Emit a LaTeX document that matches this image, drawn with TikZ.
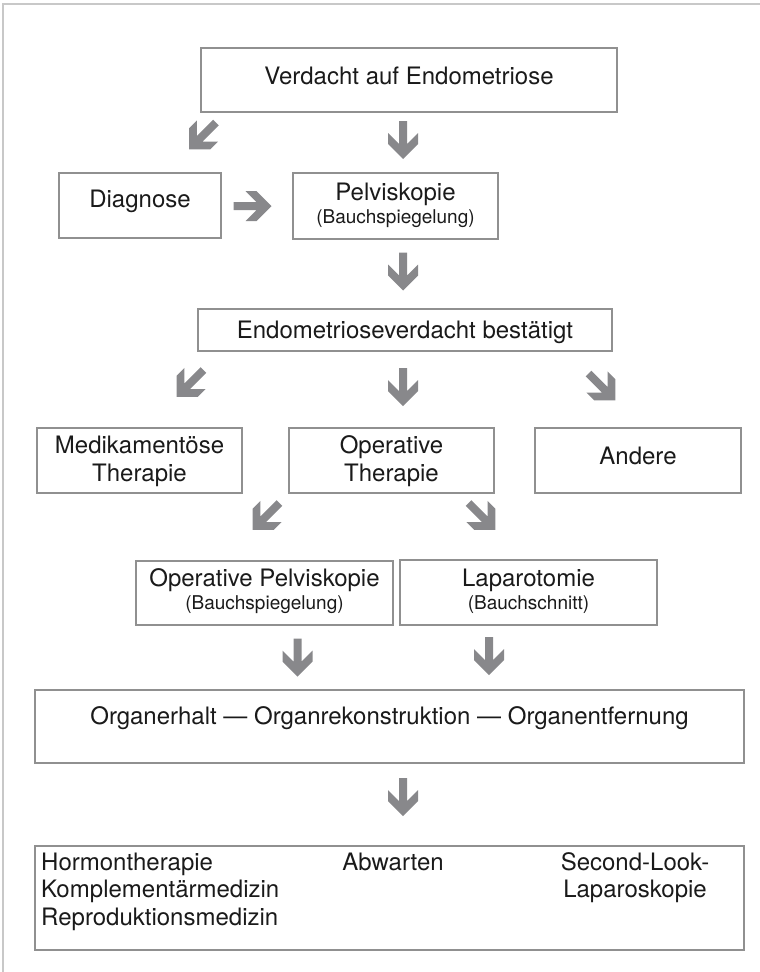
\documentclass[tikz,border=0pt]{standalone}
\usepackage{fontspec}
\setmainfont{TeX Gyre Heros}
\definecolor{boxgray}{HTML}{909090}
\definecolor{arrgray}{HTML}{88888B}
\definecolor{framegray}{HTML}{C8C8C8}
\definecolor{txt}{HTML}{1A1A1A}
\begin{document}
\begin{tikzpicture}[x=1pt,y=-1pt,
  box/.style={draw=boxgray,line width=1.3pt,inner sep=0pt},
  big/.style={font=\fontsize{24}{28}\selectfont,anchor=base,inner sep=0pt,text=txt},
  small/.style={font=\fontsize{19}{22}\selectfont,anchor=base,inner sep=0pt,text=txt},
  bigw/.style={big,anchor=base west},
  fatarrow/.pic={\fill[arrgray] (-4,-19) -- (4,-19) -- (4,4) -- (15,-7) -- (15,4) -- (0,19)
      -- (-15,4) -- (-15,-7) -- (-4,4) -- cycle;}
]
\useasboundingbox (0,0) rectangle (760,972);
% outer frame
\draw[framegray,line width=1.5pt] (3,972) -- (3,4) -- (760,4);

% boxes
\node[box,minimum width=416pt,minimum height=64pt] (top) at (409,80) {};
\node[box,minimum width=162pt,minimum height=65pt] (diag) at (140,205.5) {};
\node[box,minimum width=205pt,minimum height=66pt] (pelv) at (395.5,206) {};
\node[box,minimum width=414pt,minimum height=42pt] (endo) at (405,330) {};
\node[box,minimum width=205pt,minimum height=65pt] (med) at (139.5,460.5) {};
\node[box,minimum width=205pt,minimum height=65pt] (op) at (391.5,460.5) {};
\node[box,minimum width=206pt,minimum height=65pt] (and) at (638,460.5) {};
\node[box,minimum width=257pt,minimum height=64pt] (opp) at (264.5,593) {};
\node[box,minimum width=257pt,minimum height=65pt] (lap) at (528.5,592.5) {};
\node[box,minimum width=709pt,minimum height=73pt] (org) at (389.5,726.5) {};
\node[box,minimum width=709pt,minimum height=104pt] (fin) at (389.5,898) {};

% texts
\node[big] (t1) at (top.center |- 0,84) {Verdacht auf Endometriose};
\node[big] (t2) at (diag.center |- 0,207) {Diagnose};
\node[big] (t3) at (pelv.center |- 0,200) {Pelviskopie};
\node[small] (t4) at (pelv.center |- 0,223) {(Bauchspiegelung)};
\node[big] (t5) at (endo.center |- 0,338) {Endometrioseverdacht bestätigt};
\node[big] (t6) at (med.center |- 0,453) {Medikamentöse};
\node[big] (t7) at (med.center |- 0,481) {Therapie};
\node[big] (t8) at (op.center |- 0,453) {Operative};
\node[big] (t9) at (op.center |- 0,481) {Therapie};
\node[big] (t10) at (and.center |- 0,464) {Andere};
\node[big] (t11) at (opp.center |- 0,586) {Operative Pelviskopie};
\node[small] (t12) at (opp.center |- 0,609) {(Bauchspiegelung)};
\node[big] (t13) at (lap.center |- 0,586) {Laparotomie};
\node[small] (t14) at (lap.center |- 0,609) {(Bauchschnitt)};
\node[big] (t15) at (org.center |- 0,724) {Organerhalt — Organrekonstruktion — Organentfernung};
\node[bigw] (t16) at (41,870) {Hormontherapie};
\node[bigw] (t17) at (41,897) {Komplementärmedizin};
\node[bigw] (t18) at (41,925) {Reproduktionsmedizin};
\node[big] (t19) at (393,870) {Abwarten};
\node[big] (t20) at (635,870) {Second-Look-};
\node[big] (t21) at (635,897) {Laparoskopie};

% fat arrows
\pic[rotate=-45] at (202.5,136) {fatarrow};
\pic at (403,140) {fatarrow};
\pic[rotate=90] at (252.5,206) {fatarrow};
\pic at (403,271.5) {fatarrow};
\pic[rotate=-45] at (190,383.5) {fatarrow};
\pic at (403,387) {fatarrow};
\pic[rotate=45] at (602,387) {fatarrow};
\pic[rotate=-45] at (266,516.5) {fatarrow};
\pic[rotate=45] at (482,516.5) {fatarrow};
\pic at (297.5,657.5) {fatarrow};
\pic at (489,656) {fatarrow};
\pic at (403,797) {fatarrow};
\end{tikzpicture}
\end{document}
